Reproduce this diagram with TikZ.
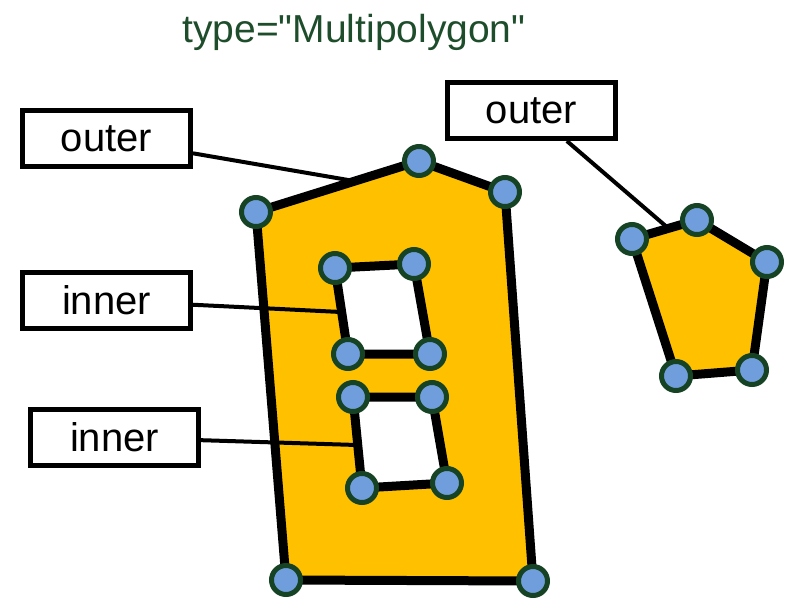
\documentclass[tikz,border=0pt]{standalone}
\usepackage{fontspec}
\setmainfont{Liberation Sans}
\usepackage{tikz}

\definecolor{polyfill}{RGB}{255,192,0}
\definecolor{ptfill}{RGB}{112,157,219}
\definecolor{ptline}{RGB}{23,67,37}
\definecolor{titlegreen}{RGB}{30,77,43}

\begin{document}
\begin{tikzpicture}[x=1pt,y=-1pt,
		pt/.style={circle, draw=ptline, fill=ptfill, line width=5pt, minimum size=29pt, inner sep=0pt},
		tag/.style={rectangle, draw, line width=5pt, fill=white, minimum width=168pt, minimum height=56pt, inner sep=0pt, font=\fontsize{40}{44}\selectfont},
		ring/.style={line width=9pt, line join=round},
		lead/.style={line width=4pt}]
				\useasboundingbox (0,0) rectangle (787,598);
				
				\node[anchor=base, text=titlegreen, font=\fontsize{39}{42}\selectfont] (title) at (354,42) {type=\textquotedbl Multipolygon\textquotedbl};
				
				% outer ring, left
				\coordinate (A) at (256,212);
				\coordinate (B) at (419,161);
				\coordinate (C) at (505,192);
				\coordinate (D) at (533,581);
				\coordinate (E) at (286,580);
				% first hole
				\coordinate (F) at (335,268);
				\coordinate (G) at (414,264);
				\coordinate (H) at (430,354);
				\coordinate (I) at (348,354);
				% second hole
				\coordinate (J) at (353,397);
				\coordinate (K) at (432,397);
				\coordinate (L) at (447,483);
				\coordinate (M) at (362,488);
				% outer ring, right
				\coordinate (P) at (632,239);
				\coordinate (Q) at (697,220);
				\coordinate (R) at (767,262);
				\coordinate (S) at (752,370);
				\coordinate (T) at (676,376);
				
				\node[tag] (o1) at (106.5,138.5) {outer};
				\node[tag] (o2) at (531.5,110.5) {outer};
				\node[tag] (i1) at (106.5,300.5) {inner};
				\node[tag] (i2) at (114.5,437.5) {inner};
				
				\coordinate (c1) at (354,181);
				\coordinate (c2) at (668,228);
				\coordinate (c3) at (341,312);
				\coordinate (c4) at (357,445);
				
				\fill[polyfill, even odd rule] (A) -- (B) -- (C) -- (D) -- (E) -- cycle
					(F) -- (G) -- (H) -- (I) -- cycle
					(J) -- (K) -- (L) -- (M) -- cycle;
				\fill[polyfill] (P) -- (Q) -- (R) -- (S) -- (T) -- cycle;
				
				\draw[lead] (o1) -- (c1);
				\draw[lead] (o2) -- (c2);
				\draw[lead] (i1) -- (c3);
				\draw[lead] (i2) -- (c4);
				
				\draw[ring] (A) -- (B) -- (C) -- (D) -- (E) -- cycle;
				\draw[ring] (F) -- (G) -- (H) -- (I) -- cycle;
				\draw[ring] (J) -- (K) -- (L) -- (M) -- cycle;
				\draw[ring] (P) -- (Q) -- (R) -- (S) -- (T) -- cycle;
				
				\foreach \v in {A,B,C,D,E,F,G,H,I,J,K,L,M,P,Q,R,S,T}
					\node[pt] (n\v) at (\v) {};
			\end{tikzpicture}
\end{document}
